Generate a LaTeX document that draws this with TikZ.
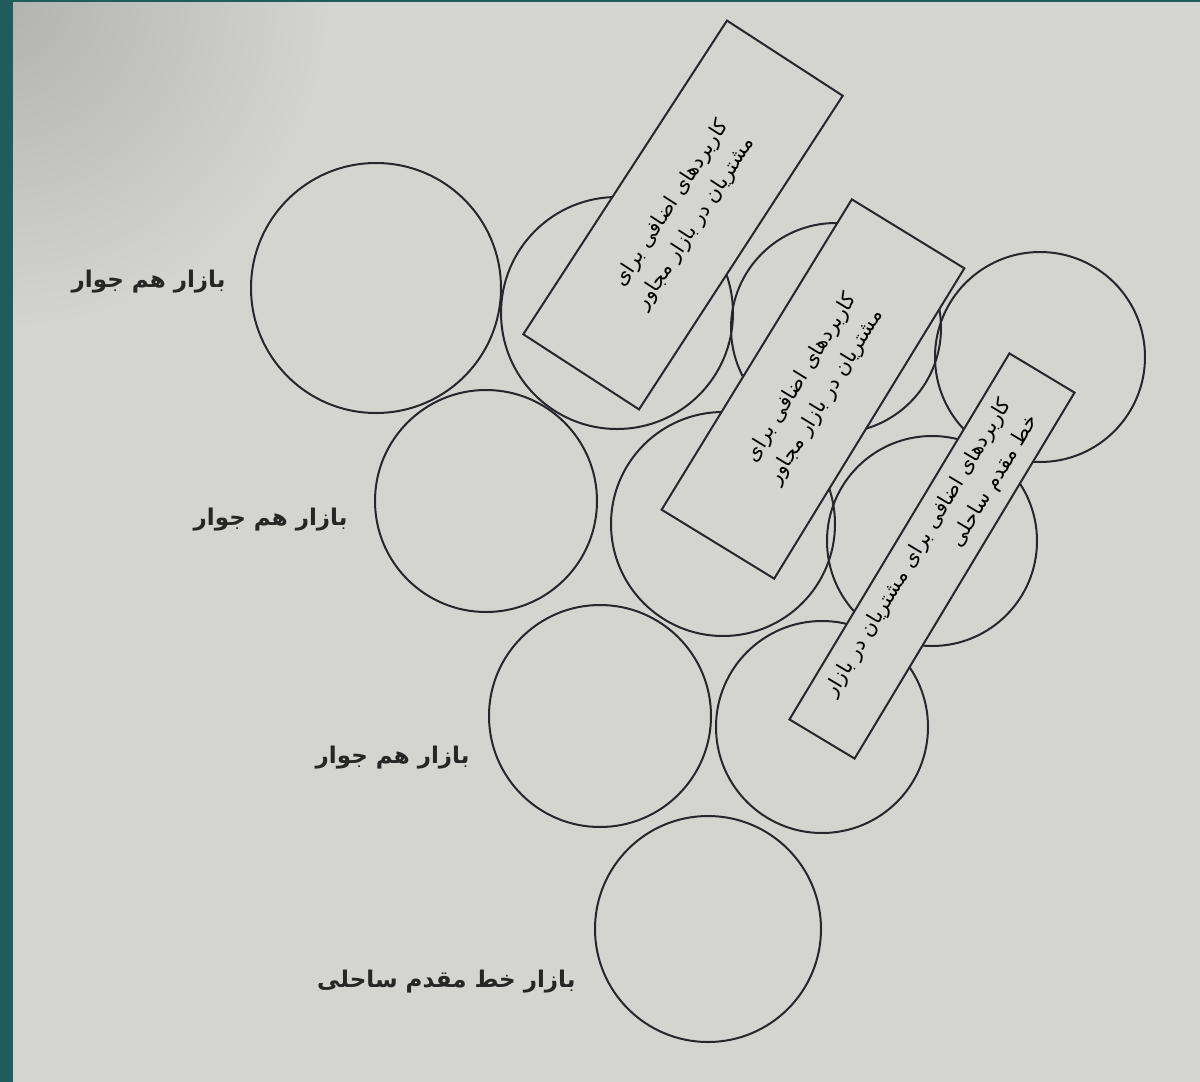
\documentclass[tikz,border=0pt]{standalone}
\usepackage{fontspec}
\newfontfamily\farsi[Script=Arabic]{DejaVu Sans}
\TeXXeTstate=1
\definecolor{page}{RGB}{212,212,209}
\definecolor{pagedark}{RGB}{178,178,176}
\definecolor{edge}{RGB}{40,38,44}
\definecolor{frame}{RGB}{33,92,92}

\begin{document}
\begin{tikzpicture}[x=1pt,y=-1pt,
    mkt/.style={circle,draw=edge,line width=2pt,minimum size=222pt,inner sep=0pt},
    extrabox/.style={rectangle,draw=edge,line width=2pt,fill=page,inner sep=2pt,
        align=right,font=\farsi\fontsize{20.5}{31}\selectfont},
    mktlabel/.style={anchor=east,font=\farsi\bfseries\fontsize{23}{27}\selectfont,text=black!85}]
    \useasboundingbox (0,0) rectangle (1200,1082);
    \fill[page] (0,0) rectangle (1200,1082);
    \begin{scope}
        \clip (0,0) rectangle (1200,1082);
        \shade[inner color=pagedark,outer color=page] (0,0) circle (330);
    \end{scope}
    \fill[frame] (0,0) rectangle (13,1082);
    \fill[frame] (0,0) rectangle (1200,2);

    % circles
    \node[mkt,minimum size=250pt] (c1) at (376,288) {};
    \node[mkt,minimum size=232pt] (c2) at (617,313) {};
    \node[mkt,minimum size=210pt] (c3) at (836,328) {};
    \node[mkt,minimum size=210pt] (c4) at (1040,357) {};
    \node[mkt] (c5) at (486,501) {};
    \node[mkt,minimum size=224pt] (c6) at (723,524) {};
    \node[mkt,minimum size=210pt] (c7) at (932,541) {};
    \node[mkt] (c8) at (600,716) {};
    \node[mkt,minimum size=212pt] (c9) at (822,727) {};
    \node[mkt,minimum size=226pt] (c10) at (708,929) {};

    % boxes
    \node[extrabox,rotate=57,minimum width=374pt,minimum height=138pt] (b1) at (683,215)
        {\beginR کاربردهای اضافی برای\endR\\\beginR مشتریان در بازار مجاور\endR};
    \node[extrabox,rotate=58.5,minimum width=364pt,minimum height=132pt] (b2) at (813,389)
        {\beginR کاربردهای اضافی برای\endR\\\beginR مشتریان در بازار مجاور\endR};
    \node[extrabox,rotate=59,minimum width=427pt,minimum height=76pt] (b3) at (932,556)
        {\beginR کاربردهای اضافی برای مشتریان در بازار\endR\\\beginR خط مقدم ساحلی\endR};

    % labels
    \node[mktlabel] (l1) at (229,282) {\beginR بازار هم جوار\endR};
    \node[mktlabel] (l2) at (351,520) {\beginR بازار هم جوار\endR};
    \node[mktlabel] (l3) at (473,758) {\beginR بازار هم جوار\endR};
    \node[mktlabel] (l4) at (579,982) {\beginR بازار خط مقدم ساحلی\endR};
\end{tikzpicture}
\end{document}
